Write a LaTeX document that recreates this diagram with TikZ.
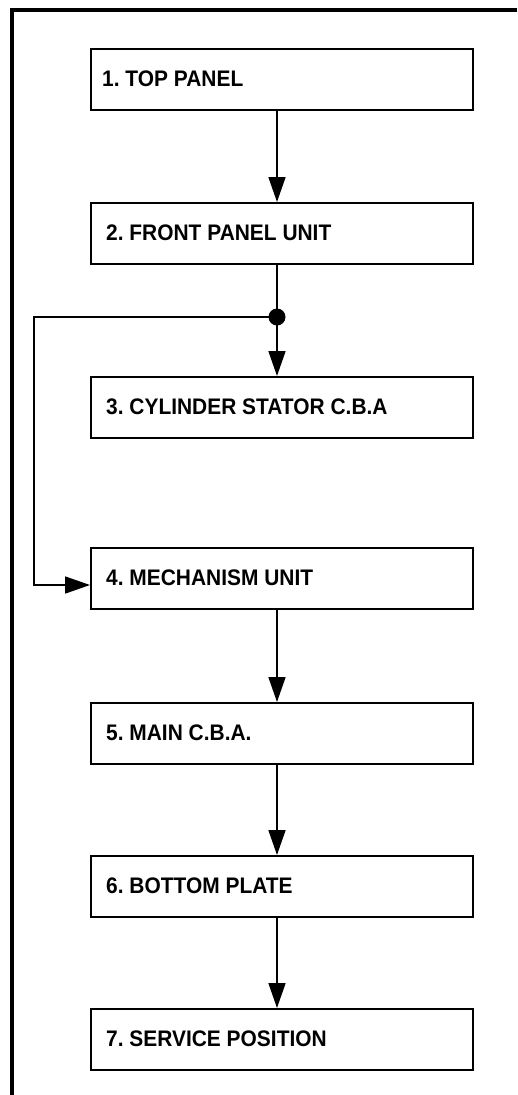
\documentclass[tikz,border=0pt]{standalone}
\usepackage{fontspec}
\setmainfont{Liberation Sans}[FakeStretch=0.93]
\usetikzlibrary{arrows.meta}
\tikzset{
  stepbox/.style={draw, line width=2pt, minimum width=382pt, minimum height=61pt, inner sep=0pt, anchor=north west},
  steptext/.style={anchor=base west, inner sep=0pt, font=\fontsize{22.5}{26}\selectfont\bfseries},
  conn/.style={line width=1.7pt, -{Triangle[length=25pt,width=17pt]}},
  frameline/.style={line width=3.5pt}
}
\begin{document}
\frenchspacing
\begin{tikzpicture}[x=1pt,y=-1pt]
\useasboundingbox (0,0) rectangle (517,1095);
\draw[frameline] (12,1095) -- (12,10) -- (517,10);
\foreach \i/\t/\tx/\lbl in {1/48/102/{1. TOP PANEL},2/202/106/{2. FRONT PANEL UNIT},3/376/106/{3. CYLINDER STATOR C.B.A},4/547/106/{4. MECHANISM UNIT},5/702/106/{5. MAIN C.B.A.},6/855/106/{6. BOTTOM PLATE},7/1008/106/{7. SERVICE POSITION}}{
  \node[stepbox] (b\i) at (90,\t) {};
  \node[steptext] (t\i) at (\tx,\t+38.5) {\frenchspacing\lbl};
}
\coordinate (j) at (277,317);
\coordinate (lc1) at (34,317);
\coordinate (lc2) at (34,585);
\draw[conn] (b1.south -| j) -- (b2.north -| j);
\draw[conn] (b2.south -| j) -- (b3.north -| j);
\draw[conn] (b4.south -| j) -- (b5.north -| j);
\draw[conn] (b5.south -| j) -- (b6.north -| j);
\draw[conn] (b6.south -| j) -- (b7.north -| j);
\draw[conn] (j) -- (lc1) -- (lc2) -- (lc2 -| b4.west);
\fill (j) circle (8.5pt);
\end{tikzpicture}
\end{document}
